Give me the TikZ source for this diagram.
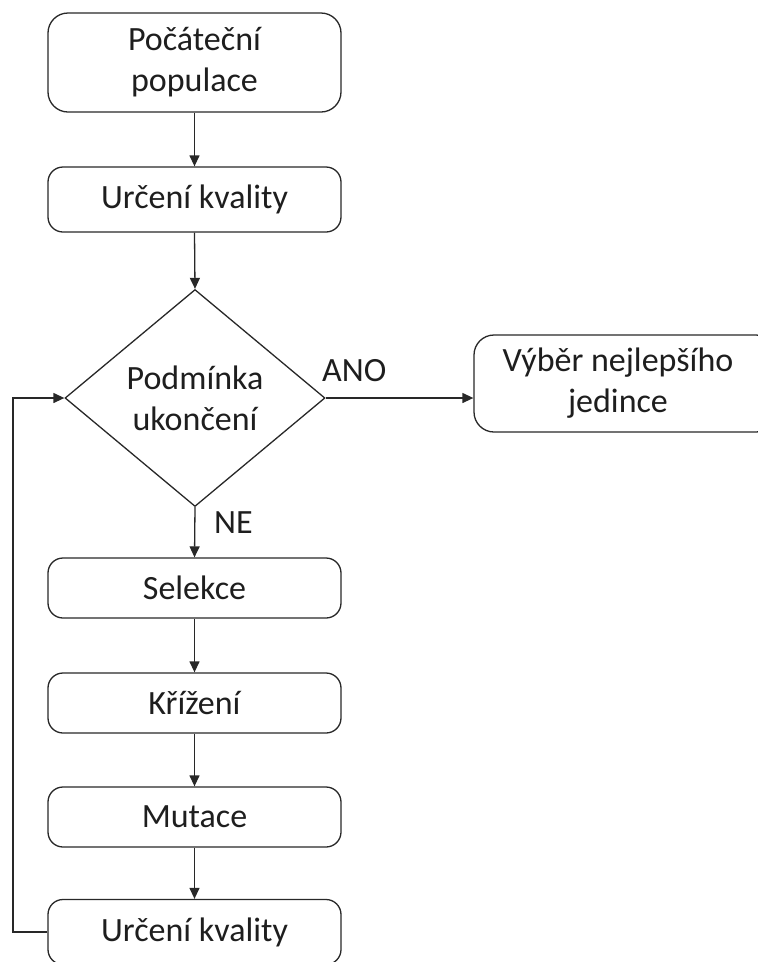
\documentclass[tikz,border=0pt]{standalone}
\usepackage{fontspec}
\setmainfont{Carlito}
\usetikzlibrary{shapes.geometric,arrows.meta}
\definecolor{ln}{RGB}{40,40,40}
\definecolor{tx}{RGB}{30,30,30}
\begin{document}
\begin{tikzpicture}[x=1pt,y=-1pt,
  every node/.style={font=\fontsize{34}{41}\selectfont, text=tx},
  box/.style={draw=ln, line width=1.3pt, rounded corners=15pt, align=center, inner sep=0pt},
  cond/.style={draw=ln, line width=1.3pt, diamond, aspect=1.2, align=center, inner sep=0pt, minimum width=260pt, minimum height=217pt},
  conn/.style={draw=ln, line width=1.3pt, -{Triangle[length=11pt,width=10pt]}},
  lbl/.style={inner sep=0pt}]
\useasboundingbox (0,0) rectangle (758,962);
\clip (0,0) rectangle (758,962);
\node[box, minimum width=293pt, minimum height=99pt, rounded corners=20pt] (p) at (194.5,62.5) {Počáteční\\populace};
\node[box, minimum width=293pt, minimum height=65pt] (k1) at (194.5,199.5) {Určení kvality};
\node[cond] (d) at (195,398) {Podmínka\\ukončení};
\node[box, minimum width=302pt, minimum height=97pt, rounded corners=20pt] (v) at (625,383.5) {\hspace*{-14pt}Výběr nejlepšího\\\hspace*{-14pt}jedince};
\node[box, minimum width=293pt, minimum height=60pt] (s) at (194.5,588) {Selekce};
\node[box, minimum width=293pt, minimum height=60pt] (c) at (194.5,703) {Křížení};
\node[box, minimum width=293pt, minimum height=60pt] (m) at (194.5,817) {Mutace};
\node[box, minimum width=293pt, minimum height=65pt] (k2) at (194.5,932) {Určení kvality};
\node[lbl, anchor=base west] (ano) at (322,381) {ANO};
\node[lbl, anchor=base west] (ne) at (214,533) {NE};
\coordinate (fb1) at (13,932);
\coordinate (fb2) at (13,398);
\draw[conn] (p.south) -- (k1.north);
\draw[conn] (k1.south) -- (d.north);
\draw[conn] (d.east) -- (d.east -| v.west);
\draw[conn] (d.south) -- (s.north);
\draw[conn] (s.south) -- (c.north);
\draw[conn] (c.south) -- (m.north);
\draw[conn] (m.south) -- (k2.north);
\draw[conn] (k2.west) -- (fb1) -- (fb2) -- (d.west);
\end{tikzpicture}
\end{document}
